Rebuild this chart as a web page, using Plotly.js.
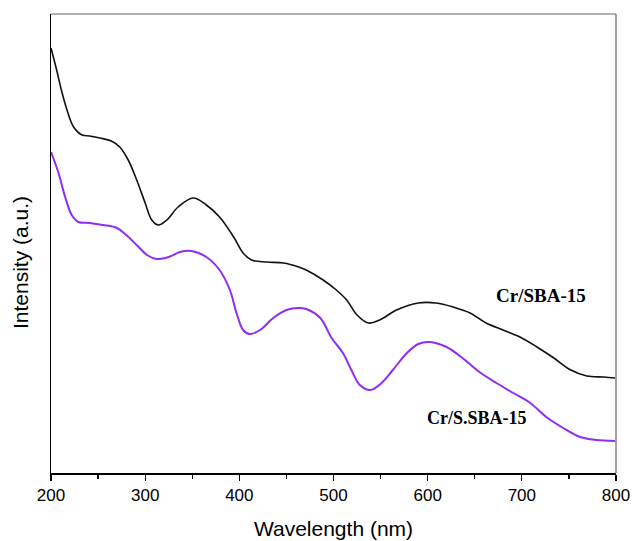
<!DOCTYPE html>
<html>
<head>
<meta charset="utf-8">
<script src="https://cdn.plot.ly/plotly-3.0.1.min.js"></script>
<style>html,body{margin:0;padding:0;background:#fff;}#chart{width:633px;height:541px;}</style>
</head>
<body>
<div id="chart"></div>
<script>
// Wavelength (nm) and intensity (a.u.)
const wlBlack = [200,206,211,217,224,233,241,252,264,273,282,291,300,307,314,323,335,351,365,379,394,404,413,429,447,463,471,489,503,514,525,537,549,567,590,609,627,645,662,680,698,716,734,752,769,787,799];
const intBlack = [425,403,383,363,346,338,337,335,332,326,313,293,270,253,248,253,266,275,268,256,236,220,213,211,210,206,203,193,183,173,158,150,153,163,170,170,166,160,150,143,136,126,115,103,97,96,95];

const wlPurple = [200,208,215,222,229,241,255,270,280,291,302,312,325,337,349,365,379,390,397,404,411,422,436,450,463,471,486,498,510,519,528,539,551,563,578,590,602,620,637,655,673,691,709,726,744,762,779,799];
const intPurple = [321,300,276,258,251,250,248,245,238,228,218,214,216,221,222,216,203,183,160,143,139,143,155,163,165,164,155,135,120,103,88,83,90,103,120,129,131,126,115,101,90,80,70,56,45,36,33,32];

const labelBlack = 'Cr/SBA-15';
const labelPurple = 'Cr/S.SBA-15';
const yTitle = 'Intensity (a.u.)';
const xTitle = 'Wavelength (nm)';

const traces = [
  {x: wlBlack, y: intBlack, type: 'scatter', mode: 'lines', line: {color: '#111111', width: 1.6, shape: 'spline', smoothing: 1}, name: labelBlack},
  {x: wlPurple, y: intPurple, type: 'scatter', mode: 'lines', line: {color: '#8f2cf5', width: 2, shape: 'spline', smoothing: 1}, name: labelPurple}
];

const layout = {
  width: 633, height: 541,
  margin: {l: 51, r: 17, t: 14, b: 68},
  paper_bgcolor: '#ffffff', plot_bgcolor: '#ffffff',
  showlegend: false,
  xaxis: {
    range: [200, 800], dtick: 100, tick0: 200,
    showgrid: false, zeroline: false,
    showline: true, linecolor: '#000', linewidth: 1.5,
    ticks: 'outside', ticklen: 6, tickwidth: 1.3, tickcolor: '#000',
    minor: {ticks: 'outside', ticklen: 4, dtick: 50, tickwidth: 1.3, tickcolor: '#000', showgrid: false},
    tickfont: {family: 'Liberation Sans, Arial, sans-serif', size: 17, color: '#000'},
    title: {text: xTitle, font: {family: 'Liberation Sans, Arial, sans-serif', size: 21, color: '#000'}, standoff: 17}
  },
  yaxis: {
    range: [0, 459],
    showgrid: false, zeroline: false,
    showline: true, linecolor: '#000', linewidth: 1.5,
    ticks: '', showticklabels: false
  },
  shapes: [
    {type: 'line', xref: 'paper', yref: 'paper', x0: 0, x1: 1, y0: 1, y1: 1, line: {color: '#666', width: 1.2}},
    {type: 'line', xref: 'paper', yref: 'paper', x0: 1, x1: 1, y0: 0, y1: 1, line: {color: '#666', width: 1.2}}
  ],
  annotations: [
    {x: 0, xref: 'paper', y: 210, yref: 'y', text: yTitle, textangle: -90, showarrow: false,
     xanchor: 'center', yanchor: 'middle', xshift: -31,
     font: {family: 'Liberation Sans, Arial, sans-serif', size: 21, color: '#000'}},
    {x: 720, y: 178, xref: 'x', yref: 'y', text: '<b>' + labelBlack + '</b>', showarrow: false,
     font: {family: 'Liberation Serif, Times New Roman, serif', size: 19, color: '#000'}},
    {x: 652, y: 55, xref: 'x', yref: 'y', text: '<b>' + labelPurple + '</b>', showarrow: false,
     font: {family: 'Liberation Serif, Times New Roman, serif', size: 18, color: '#000'}}
  ]
};

Plotly.newPlot('chart', traces, layout, {displayModeBar: false, staticPlot: true});
</script>
</body>
</html>
